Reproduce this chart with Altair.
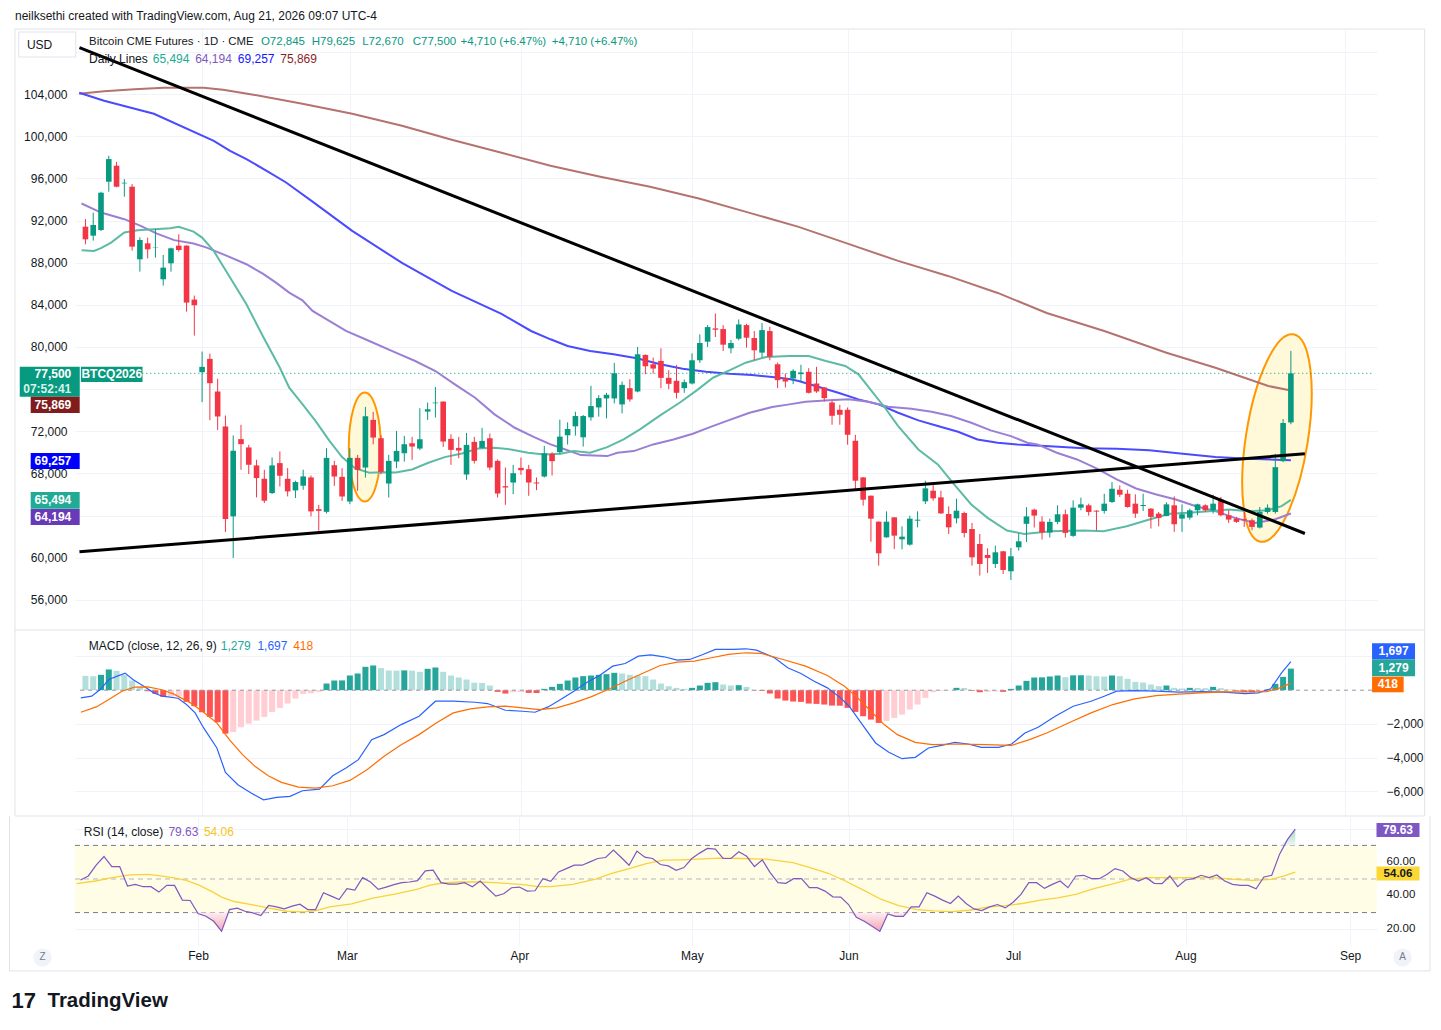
import altair as alt
import pandas as pd

# ------------------------------------------------------------------ data
OPEN = [91418, 90565, 91102, 95684, 97201, 95526, 95210, 88321, 89838, 89427,
        86425, 87942, 89617, 89617, 84498, 77609, 78873, 75776, 72458, 63927,
        71257, 70467, 68761, 67496, 66138, 68982, 67496, 66391, 66833, 67623,
        64611, 64358, 68782, 67676, 65338, 69477, 68561, 73080, 71342, 67044,
        69130, 69920, 70868, 70362, 73870, 74660, 74818, 71279, 70425, 67897,
        70994, 70425, 71342, 69193, 66791, 67139, 68530, 68403, 67139, 67708,
        69857, 70015, 71621, 72472, 71432, 73322, 74267, 75118, 75118, 74550,
        76094, 75779, 79244, 78362, 78677, 77071, 76787, 76094, 76535, 78740,
        80504, 81764, 81701, 79874, 80787, 82079, 80850, 79464, 81512, 78362,
        77039, 77011, 77422, 77643, 76537, 76158, 74736, 74041, 74041, 71102,
        67626, 65888, 63423, 61938, 63834, 61748, 61243, 63518, 65351, 66362,
        65730, 64150, 63739, 64245, 62728, 61306, 60263, 59410, 60611, 58715,
        60990, 63220, 64565, 63431, 62392, 63400, 64124, 62077, 64754, 64975,
        64470, 64439, 65289, 66455, 66077, 65132, 64911, 64660, 64187, 63966,
        64975, 63715, 63809, 64502, 64975, 64502, 65510, 64030, 63715, 63652,
        63557, 62864, 64345, 64345, 69164, 72845]
HIGH = [92145, 92745, 94736, 98149, 97580, 95937, 95463, 90407, 90375, 91197,
        88732, 89427, 90691, 89650, 84877, 79568, 79378, 76977, 73501, 71605,
        72616, 70720, 69298, 68350, 69520, 70088, 68508, 67307, 68350, 67813,
        65022, 70394, 69193, 68498, 70394, 69762, 74312, 73838, 71626, 69762,
        72037, 71563, 71468, 74186, 74723, 76208, 74850, 71721, 71468, 71847,
        71468, 72321, 71784, 69320, 68561, 68814, 69509, 68814, 67613, 70615,
        70015, 73102, 72850, 73858, 73543, 76315, 75433, 75653, 78488, 76724,
        76945, 80000, 79300, 78992, 79874, 77795, 78299, 76913, 79401, 81197,
        82079, 83182, 82079, 80661, 82614, 82205, 81512, 82268, 81921, 78520,
        77480, 77896, 78307, 77991, 78117, 76200, 74894, 74515, 74262, 71671,
        67650, 65900, 63450, 64403, 63850, 62981, 63992, 64403, 67310, 67057,
        66362, 64877, 65604, 64371, 63297, 62254, 60895, 61148, 60650, 60927,
        62317, 64800, 64660, 63935, 63715, 64975, 64565, 65447, 65699, 65132,
        64500, 66077, 67179, 66864, 66455, 66014, 66077, 64700, 64345, 65258,
        65825, 65069, 64660, 65132, 65069, 65982, 65762, 64502, 63872, 64345,
        63715, 64817, 65069, 69857, 73165, 79625]
LOW = [89743, 90091, 91007, 94736, 95150, 94262, 89143, 87152, 88416, 88479,
       85825, 87152, 89048, 83360, 81085, 74765, 73058, 72110, 62441, 59976,
       68350, 67939, 65727, 65190, 66043, 66770, 65822, 65664, 66454, 63927,
       62557, 64200, 66823, 65401, 65085, 66349, 67613, 70773, 67929, 65717,
       68498, 69130, 69288, 70204, 73080, 73301, 70520, 68814, 69446, 67392,
       68940, 70380, 68308, 65717, 65022, 66033, 67866, 65875, 66412, 67613,
       67809, 69857, 70739, 71590, 70550, 73007, 73385, 73228, 74645, 73700,
       74802, 75700, 77417, 77480, 76094, 76000, 75118, 75653, 76450, 78488,
       80000, 80945, 79622, 79401, 80630, 79937, 78740, 78992, 78740, 76094,
       76157, 76474, 76727, 75589, 75652, 74831, 72619, 72619, 70723, 66520,
       64940, 61527, 59252, 61900, 60832, 60800, 61148, 62886, 65098, 65414,
       64150, 62254, 63265, 61938, 59252, 58304, 58557, 59031, 58462, 57893,
       60674, 61490, 62864, 61730, 61919, 63179, 61919, 61982, 64502, 63998,
       62612, 64187, 65195, 65762, 64754, 63778, 64439, 62770, 62987, 63935,
       62455, 62455, 63620, 64030, 64345, 64187, 63935, 63305, 63305, 62927,
       62612, 62770, 64187, 64187, 69069, 72670]
CLOSE = [90217, 91576, 94641, 97833, 95210, 95589, 89522, 90154, 89269, 89460,
         87531, 89364, 89206, 84213, 83960, 78114, 76566, 73406, 63673, 70151,
         70783, 68824, 67560, 65411, 68761, 67781, 66296, 67181, 67718, 64400,
         64450, 69477, 67708, 65812, 69477, 68340, 73427, 71405, 68150, 69193,
         70141, 70773, 70552, 71247, 74091, 74723, 71026, 70236, 70172, 70710,
         69193, 71089, 68561, 66096, 66665, 68024, 68308, 67139, 67044, 69920,
         69164, 71495, 72220, 73448, 73448, 74393, 75149, 75464, 77512, 76409,
         75023, 79307, 78173, 77953, 77071, 76504, 75653, 76661, 78740, 80378,
         81890, 81638, 80220, 80378, 82142, 80882, 79685, 81606, 79087, 76850,
         76724, 77738, 77580, 75652, 75779, 75147, 73472, 73567, 71671, 67310,
         65509, 63708, 60421, 63423, 62096, 62001, 63708, 63613, 66583, 65635,
         64213, 62886, 64466, 62349, 60042, 59410, 59979, 60516, 58841, 60137,
         61559, 63920, 63998, 62392, 63400, 64124, 62360, 64754, 65069, 64345,
         64376, 65132, 66549, 65982, 64817, 64187, 65006, 63872, 63778, 65069,
         63179, 64124, 64502, 65069, 64502, 65132, 64030, 63620, 63400, 63557,
         62927, 64345, 64754, 68597, 72787, 77500]

# moving averages (bar index, value)
TEAL_IDX = [-0.5, 1.1, 2.0, 3.3, 5.0, 6.7, 8.8, 10.9, 12.0, 13.9, 15.0, 16.5, 18.2, 20.7, 22.8,
            25.0, 26.2, 27.9, 29.6, 31.4, 33.0, 34.7, 36.5, 38.2, 39.9, 42.0, 44.1, 46.2, 48.4, 50.5,
            52.6, 54.7, 56.9, 59.0, 61.1, 62.8, 64.9, 67.1, 69.2, 71.3, 73.9, 76.4, 78.6, 80.7, 82.8,
            84.9, 87.5, 90.5, 93.0, 95.2, 97.7, 99.4, 101.1, 102.8, 104.5, 107.1, 109.6, 111.7, 113.9, 116.0,
            118.5, 120.7, 124.1, 128.3, 130.9, 133.9, 136.8, 139.4, 141.9, 144.5, 147.0, 149.6, 152.1, 153.8, 155.0]
TEAL_VAL = [89185, 89120, 89375, 89910, 90860, 91085, 91180, 91275, 91400, 90955, 90385, 89120, 87060, 84055, 81045,
            78035, 76135, 74585, 72970, 71070, 69550, 68475, 68060, 68125, 68095, 68380, 69010, 69550, 69900, 70375,
            70435, 70280, 69960, 69805, 69865, 70120, 69960, 70500, 71230, 72180, 73510, 74710, 75885, 77085, 77785,
            78510, 79050, 79145, 79145, 78670, 78195, 77405, 75820, 74235, 72495, 70280, 68855, 66955, 65055, 63785,
            62585, 62265, 62520, 62585, 62520, 62995, 63630, 64165, 64260, 64420, 64580, 64420, 64515, 64895, 65494]
PURPLE_IDX = [-0.5, 2.0, 5.0, 7.1, 9.2, 11.4, 13.9, 15.6, 18.2, 20.7, 22.8, 24.5, 26.2, 27.9, 29.2,
              33.5, 36.5, 39.9, 42.4, 45.0, 47.5, 50.1, 52.6, 55.2, 57.7, 59.8, 61.1, 63.7, 67.1, 68.4,
              70.5, 73.0, 75.6, 78.1, 80.3, 82.4, 85.4, 88.3, 90.5, 92.6, 95.6, 98.1, 100.7, 103.2, 106.2,
              108.8, 111.3, 113.9, 116.4, 119.0, 121.1, 122.4, 124.9, 127.5, 130.0, 132.6, 135.1, 137.7, 140.2, 142.8,
              145.3, 147.8, 150.4, 152.9, 155.0]
PURPLE_VAL = [93615, 92760, 92130, 91495, 90765, 90140, 89815, 89435, 88645, 87855, 86965, 86110, 85160, 84435, 83420,
              81520, 80570, 79460, 78670, 77720, 76455, 75185, 73605, 72335, 71450, 70755, 70435, 69740, 69645, 69960,
              70120, 70755, 71230, 71765, 72400, 72970, 73760, 74300, 74555, 74805, 74935, 75030, 74805, 74330, 74140,
              73855, 73445, 72810, 72085, 71545, 70910, 70755, 69960, 69330, 68475, 67430, 66575, 66005, 65530, 64895,
              64420, 63785, 63310, 63630, 64194]
BLUE_IDX = [-0.8, 2.4, 8.8, 16.5, 18.6, 20.7, 23.3, 25.8, 29.2, 34.3, 40.7, 47.1, 53.5, 57.3, 59.8, 62.0,
            64.9, 67.9, 70.9, 73.9, 76.8, 79.8, 82.8, 85.7, 88.3, 90.5, 91.7, 94.3, 96.8, 99.4, 102.0,
            104.5, 107.1, 109.6, 112.2, 114.7, 117.3, 119.8, 124.0, 128.4, 132.6, 136.8, 141.1, 145.3, 149.5, 155.0]
BLUE_VAL = [104130, 103370, 102135, 99570, 98620, 97830, 96720, 95610, 93800, 91020, 87980, 85320, 83135, 81520, 80730, 80095,
            79620, 79305, 78925, 78355, 77940, 77655, 77465, 77340, 77150, 76960, 76770, 76200, 75660, 75030, 74555,
            73760, 73040, 72495, 71960, 71230, 70910, 70740, 70570, 70380, 70340, 70190, 69865, 69550, 69390, 69257]
BROWN_IDX = [-0.8, 2.4, 6.3, 10.1, 15.2, 17.7, 21.6, 27.9, 34.3, 40.7, 47.1, 53.5, 59.8, 66.2, 72.6,
             79.0, 85.4, 91.7, 98.1, 104.5, 110.9, 117.3, 123.6, 131.0, 139.0, 145.3, 149.5, 152.1, 155.0]
BROWN_VAL = [104035, 104273, 104463, 104605, 104605, 104415, 103940, 103085, 102135, 100995, 99665, 98430, 97195, 96150, 95200,
             94060, 92730, 91400, 89785, 88170, 86745, 85130, 83230, 81520, 79460, 78035, 76960, 76295, 75869]

# drawn trendlines (bar index, price at each end)
TREND_X = [-0.77, 156.8]
TREND_DOWN = [108405, 62300]
TREND_UP = [60563, 69864]

# highlight ellipses: centre (bar index, price)
ELL_X = [35.92, 153.21]
ELL_Y = [70510, 71364]

# MACD
MACD_HIST = [850, 830, 911, 1228, 1148, 911, 574, 178, -59, -218,
             -396, -380, -356, -693, -950, -1307, -1584, -1901, -2574, -2475,
             -2198, -1980, -1802, -1584, -1287, -1049, -792, -495, -220, -180,
             -99, 396, 574, 580, 871, 990, 1386, 1465, 1307, 1168,
             1160, 1175, 1160, 1089, 1267, 1346, 1089, 871, 752, 634,
             445, 430, 277, -99, -198, -119, -110, -158, -165, 79,
             198, 376, 574, 752, 832, 871, 911, 950, 1030, 990,
             911, 871, 832, 634, 396, 238, 139, 79, 139, 277,
             436, 475, 337, 277, 297, 198, -20, -40, -198, -495,
             -614, -673, -693, -792, -812, -851, -911, -920, -1049, -1287,
             -1544, -1742, -1940, -1822, -1643, -1445, -1148, -851, -455, -119,
             -40, -20, 139, 130, -40, -119, -99, -79, -99, 79,
             277, 554, 752, 760, 812, 871, 772, 880, 885, 871,
             832, 812, 871, 832, 673, 495, 455, 337, 238, 277,
             139, 99, 139, 130, 119, 198, 119, 40, -40, -99,
             -119, -79, 40, 376, 792, 1279]
MACD_IDX = [-0.6, 0.8, 1.9, 3.0, 4.1, 5.1, 6.1, 7.5, 8.8, 9.9,
            11.9, 13.0, 14.1, 15.2, 16.9, 18.0, 19.6, 21.3, 22.9, 24.6,
            26.3, 27.9, 30.1, 31.8, 33.5, 35.1, 36.8, 38.4, 40.6, 42.9,
            45.0, 47.3, 50.1, 51.7, 54.0, 56.2, 57.8, 59.5, 61.1, 62.8,
            64.4, 66.1, 67.8, 69.4, 71.1, 72.7, 74.4, 76.1, 77.7, 79.4,
            81.0, 83.3, 84.9, 86.3, 88.6, 90.3, 92.0, 93.7, 95.4, 97.1,
            98.2, 99.9, 101.6, 103.3, 105.0, 106.7, 108.4, 110.1, 111.8, 113.5,
            115.2, 117.4, 119.1, 120.8, 122.5, 124.7, 127.0, 129.3, 131.0, 132.6,
            134.9, 137.7, 140.6, 143.4, 146.3, 149.1, 150.8, 152.4, 153.8, 155.0]
MACD_VAL = [-455, -356, 40, 634, 832, 1010, 634, 238, -158, -356,
            -475, -851, -1346, -2237, -3425, -4871, -5603, -6098, -6494, -6356,
            -6296, -5960, -5861, -5069, -4613, -4118, -2930, -2633, -2039, -1544,
            -653, -653, -713, -792, -1188, -1247, -1307, -990, -554, -59,
            436, 871, 1426, 1584, 2020, 2099, 1980, 1782, 1822, 2119,
            2416, 2416, 2455, 2376, 1921, 1327, 990, 535, 139, -455,
            -950, -2039, -3128, -3683, -4059, -3980, -3425, -3267, -3089, -3188,
            -3386, -3386, -3188, -2534, -2198, -1544, -950, -653, -356, -59,
            -20, -59, -119, -79, -119, -198, -158, 79, 1030, 1697]
SIG_IDX = [-0.6, 1.4, 3.0, 4.7, 6.3, 8.0, 9.7, 11.3, 13.5, 15.2,
           16.9, 18.5, 20.2, 21.8, 23.5, 25.2, 27.4, 29.6, 31.8, 34.0,
           36.2, 38.4, 40.6, 42.9, 45.1, 47.3, 49.5, 51.7, 54.0, 56.2,
           58.4, 60.6, 62.8, 65.0, 67.2, 69.4, 71.6, 73.9, 76.1, 78.3,
           80.5, 82.7, 84.9, 86.9, 89.7, 92.6, 95.4, 97.6, 99.3, 101.0,
           102.7, 104.4, 106.7, 108.9, 112.3, 115.7, 119.1, 121.4, 123.6, 126.4,
           129.3, 132.1, 134.9, 137.7, 140.6, 143.4, 146.3, 149.1, 151.9, 153.6, 155.0]
SIG_VAL = [-1307, -990, -554, -59, 178, 198, 40, -218, -752, -1307,
           -1940, -2930, -3821, -4514, -5069, -5465, -5742, -5801, -5663, -5346,
           -4712, -3920, -3227, -2633, -1940, -1346, -1109, -990, -950, -1049,
           -1148, -1049, -752, -396, 40, 535, 990, 1465, 1663, 1723,
           1921, 2119, 2218, 2178, 1822, 1426, 871, 238, -455, -1247,
           -2039, -2633, -3089, -3227, -3188, -3227, -3267, -2930, -2534, -1940,
           -1346, -851, -515, -317, -238, -158, -99, -99, -79, 139, 418]

# RSI
RSI = [49.4, 51.8, 58.2, 63.4, 57.4, 57.4, 45.8, 46.8, 45.4, 45.4,
       42.2, 46.2, 46.2, 37.4, 37.2, 29.4, 27.8, 24.8, 18.8, 31.8,
       32.6, 30.8, 29.8, 28.2, 34.2, 33.4, 32.2, 33.8, 35.0, 31.8,
       31.8, 41.8, 39.8, 37.8, 44.2, 43.4, 50.8, 48.2, 43.8, 45.2,
       46.6, 47.8, 48.2, 49.0, 54.8, 55.2, 47.8, 47.0, 47.0, 47.8,
       45.4, 48.8, 44.2, 39.8, 41.2, 44.8, 45.2, 42.8, 43.0, 50.2,
       48.6, 54.2, 56.2, 58.2, 58.2, 60.2, 62.2, 62.8, 67.2, 62.8,
       58.2, 66.6, 63.0, 62.2, 58.6, 57.8, 55.2, 56.8, 62.2, 65.4,
       68.2, 67.8, 62.2, 62.2, 66.2, 63.5, 57.4, 61.4, 53.8, 47.8,
       47.4, 50.2, 50.2, 44.8, 44.8, 42.8, 39.4, 39.2, 34.8, 27.2,
       24.8, 21.8, 18.8, 29.2, 27.8, 27.8, 33.4, 33.4, 41.8, 39.8,
       37.4, 35.4, 39.8, 35.4, 32.2, 31.2, 33.4, 34.8, 32.8, 36.2,
       40.8, 47.8, 47.8, 44.4, 46.8, 48.8, 44.8, 51.8, 52.2, 50.2,
       50.2, 52.8, 56.2, 54.8, 50.8, 48.8, 50.8, 47.4, 47.2, 51.8,
       45.4, 49.4, 50.2, 52.2, 50.8, 52.4, 48.8, 46.8, 46.2, 46.2,
       44.2, 51.2, 52.2, 64.8, 73.4, 79.63]
RSIMA_IDX = [-0.5, 1.9, 4.1, 6.3, 8.6, 10.2, 11.9, 13.5, 15.2, 16.9,
             18.0, 19.6, 21.8, 24.1, 26.3, 28.5, 30.1, 31.8, 34.6, 37.3,
             40.1, 42.9, 44.5, 46.2, 48.4, 50.6, 52.8, 56.2, 58.4, 60.0,
             62.8, 65.6, 67.8, 70.0, 72.2, 74.4, 76.6, 78.8, 81.6, 84.1,
             87.5, 90.9, 93.1, 95.4, 97.6, 99.9, 102.2, 104.4, 106.7, 108.9,
             111.2, 113.4, 115.7, 118.0, 120.2, 122.5, 124.7, 127.0, 129.3, 131.5,
             133.8, 136.0, 138.9, 141.7, 144.5, 147.3, 149.6, 151.9, 153.6, 155.0]
RSIMA_VAL = [47.2, 48.8, 50.8, 52.4, 52.8, 51.8, 50.6, 49.2, 46.2, 42.2,
             39.2, 36.6, 34.8, 32.6, 30.8, 30.4, 31.2, 33.4, 35.2, 38.6,
             41.0, 43.8, 46.2, 47.6, 48.2, 48.2, 47.8, 46.8, 45.4, 45.4,
             46.8, 49.8, 53.4, 56.2, 59.2, 61.2, 61.4, 61.8, 62.4, 62.2,
             61.8, 59.8, 56.8, 53.4, 48.8, 43.4, 37.8, 34.2, 31.8, 31.0,
             30.6, 31.4, 33.2, 34.2, 35.4, 37.4, 38.8, 40.8, 44.2, 46.8,
             49.8, 50.8, 50.8, 50.8, 50.8, 49.8, 49.2, 49.8, 51.8, 54.06]

MONTH_POS = [15, 34, 56, 78, 98, 119, 141, 162]
MONTH_NAMES = ["Feb", "Mar", "Apr", "May", "Jun", "Jul", "Aug", "Sep"]
PRICE_TICKS = list(range(56000, 108001, 4000))
PRICE_HIDDEN = [64000, 76000, 108000]

# ------------------------------------------------------------------ layout / style
FONT = "Liberation Sans"
INK = "#131722"
GRID = "#f0f3fa"
FRAME = "#e0e3eb"
GREEN, RED = "#089981", "#f23645"

XMIN, XMAX = -0.70, 165.43
PW = 1302
PH, MH, RH = 601, 186, 129
PRICE_DOM = [53143, 110178]
MACD_DOM = [-7457, 3568]
RSI_DOM = [10.7, 87.5]
FX0, FX1 = -9.06, 172.2

XSC = alt.Scale(domain=[XMIN, XMAX], nice=False, zero=False)
GRID_X = alt.Axis(values=MONTH_POS, labels=False, ticks=False, domain=False,
                  grid=True, gridColor=GRID, title=None)
month_expr = " : ".join(f"datum.value == {p} ? '{n}'" for p, n in zip(MONTH_POS, MONTH_NAMES)) + " : ''"
DATE_X = alt.Axis(values=MONTH_POS, labelExpr=month_expr, ticks=False, domain=False,
                  grid=True, gridColor=GRID, title=None, labelPadding=5,
                  labelFontSize=12, labelColor=INK, labelFont=FONT)

PY_SC = alt.Scale(domain=PRICE_DOM, nice=False, zero=False)
PY_AX = alt.Axis(orient="left", values=PRICE_TICKS,
                 labelExpr="indexof([" + ",".join(map(str, PRICE_HIDDEN)) + "], datum.value) >= 0 ? '' : format(datum.value, ',')",
                 grid=True, gridColor=GRID, domain=False, ticks=False, labelPadding=8, title=None,
                 labelFontSize=12, labelColor=INK, labelFont=FONT)
MY_SC = alt.Scale(domain=MACD_DOM, nice=False, zero=False)
MY_AX = alt.Axis(orient="right", values=[2000, -2000, -4000, -6000],
                 labelExpr="datum.value > 0 ? '' : format(datum.value, ',')",
                 grid=True, gridColor=GRID, domain=False, ticks=False, labelPadding=9, title=None,
                 labelFontSize=12, labelColor=INK, labelFont=FONT)
RY_SC = alt.Scale(domain=RSI_DOM, nice=False, zero=False)
RY_AX = alt.Axis(orient="right", values=[20, 40, 60, 80],
                 labelExpr="datum.value > 70 ? '' : format(datum.value, '.2f')",
                 grid=True, gridColor=GRID, domain=False, ticks=False, labelPadding=9, title=None,
                 labelFontSize=11.5, labelOffset=-1, labelColor=INK, labelFont=FONT)


def enc(xa, ys, ya):
    def X(f):
        return alt.X(f, type="quantitative", scale=XSC, axis=xa)

    def Y(f):
        return alt.Y(f, type="quantitative", scale=ys, axis=ya)
    return X, Y


def rect_path(w, h):
    r = h / w
    return f"M-1,{-r:.4f} L1,{-r:.4f} L1,{r:.4f} L-1,{r:.4f} Z"


def ellipse_path(a):
    k = 0.5523
    return (f"M{-a:.4f},0 C{-a:.4f},{-k:.4f} {-k * a:.4f},-1 0,-1 "
            f"C{k * a:.4f},-1 {a:.4f},{-k:.4f} {a:.4f},0 "
            f"C{a:.4f},{k:.4f} {k * a:.4f},1 0,1 "
            f"C{-k * a:.4f},1 {-a:.4f},{k:.4f} {-a:.4f},0 Z")


def text_layer(X, Y, items, align="left", size=12, weight="normal"):
    df = pd.DataFrame(items, columns=["x", "y", "t", "col"])
    return alt.Chart(df).mark_text(align=align, baseline="middle", fontSize=size,
                                   fontWeight=weight, font=FONT).encode(
        x=X("x"), y=Y("y"), text="t:N", color=alt.Color("col:N", scale=None))


def box_layer(X, Y, items):
    df = pd.DataFrame([dict(x=x, y=y, shape=rect_path(w, h), size=w * w, col=c)
                       for (x, y, w, h, c) in items])
    return alt.Chart(df).mark_point(filled=True, opacity=1, strokeWidth=0).encode(
        x=X("x"), y=Y("y"), shape=alt.Shape("shape:N", scale=None),
        size=alt.Size("size:Q", scale=None), color=alt.Color("col:N", scale=None))


def frame_layer(X, Y, rows):
    df = pd.DataFrame(rows, columns=["x", "x2", "y", "y2"])
    return alt.Chart(df).mark_rule(color=FRAME, strokeWidth=1).encode(
        x=X("x"), x2=alt.X2("x2"), y=Y("y"), y2=alt.Y2("y2"))


def line_layer(X, Y, xs, ys, color, width, dash=None):
    df = pd.DataFrame({"x": xs, "y": ys})
    kw = dict(color=color, strokeWidth=width, clip=True)
    if dash:
        kw["strokeDash"] = dash
    return alt.Chart(df).mark_line(**kw).encode(x=X("x"), y=Y("y"))


# ------------------------------------------------------------------ price panel
PX, PY = enc(GRID_X, PY_SC, PY_AX)
idx = list(range(len(CLOSE)))
candles = pd.DataFrame({"i": idx, "o": OPEN, "h": HIGH, "l": LOW, "c": CLOSE})
candles["col"] = [GREEN if c >= o else RED for o, c in zip(OPEN, CLOSE)]

ellipses = []
for (ex, ey, sz, a, ang) in [(ELL_X[0], ELL_Y[0], 109.0, 16.0 / 54.5, 0),
                             (ELL_X[1], ELL_Y[1], 210.0, 31.0 / 105.0, 9)]:
    ellipses.append(
        alt.Chart(pd.DataFrame({"x": [ex], "y": [ey]})).mark_point(
            shape=ellipse_path(a), size=sz * sz, angle=ang, filled=True, fill="#fff8d9",
            stroke="#ff9800", strokeWidth=2, opacity=1).encode(x=PX("x"), y=PY("y")))

wicks = alt.Chart(candles).mark_rule(strokeWidth=1).encode(
    x=PX("i"), y=PY("l"), y2=alt.Y2("h"), color=alt.Color("col:N", scale=None))
bodies = alt.Chart(candles).mark_bar(size=5.6).encode(
    x=PX("i"), y=PY("o"), y2=alt.Y2("c"), color=alt.Color("col:N", scale=None))

last_line = alt.Chart(pd.DataFrame({"x": [7.31], "x2": [XMAX], "y": [CLOSE[-1]]})).mark_rule(
    color=GREEN, strokeDash=[1, 3], strokeWidth=1).encode(x=PX("x"), x2=alt.X2("x2"), y=PY("y"))

trend_down = line_layer(PX, PY, TREND_X, TREND_DOWN, "#000000", 3)
trend_up = line_layer(PX, PY, TREND_X, TREND_UP, "#000000", 3)

L1, L2 = 108945, 107331
legend = [
    text_layer(PX, PY, [(0.47, L1, "Bitcoin CME Futures · 1D · CME", INK)], size=11.4),
    text_layer(PX, PY, [(22.56, L1, "O72,845", GREEN), (29.09, L1, "H79,625", GREEN),
                        (35.58, L1, "L72,670", GREEN), (42.08, L1, "C77,500", GREEN),
                        (48.23, L1, "+4,710 (+6.47%)", GREEN), (59.95, L1, "+4,710 (+6.47%)", GREEN)],
               size=11.5),
    text_layer(PX, PY, [(0.47, L2, "Daily Lines", INK), (8.65, L2, "65,494", "#22ab94"),
                        (14.11, L2, "64,194", "#7e57c2"), (19.59, L2, "69,257", "#1515ff"),
                        (25.05, L2, "75,869", "#8b1e1e"),
                        (-9.06, 111400, "neilksethi created with TradingView.com, Aug 21, 2026 09:07 UTC-4", INK),
                        (-7.53, 108707, "USD", INK)]),
]
usd_box = alt.Chart(pd.DataFrame({"x": [-4.91], "y": [108707]})).mark_point(
    shape=rect_path(57, 25), size=57 * 57, filled=True, fill="#ffffff", stroke=FRAME,
    strokeWidth=1, opacity=1).encode(x=PX("x"), y=PY("y"))
price_boxes = box_layer(PX, PY, [(-4.59, 76707, 60, 30, GREEN),
                                 (-3.89, 74515, 49, 16.3, "#801c1c"),
                                 (-3.89, 69181, 49, 16, "#0000ff"),
                                 (-3.89, 65452, 49, 16.7, "#22ab94"),
                                 (-3.89, 63867, 49, 16, "#673ab7"),
                                 (3.38, 77409, 61.6, 15.3, GREEN)])
price_box_text = text_layer(PX, PY, [(-1.82, 77438, "77,500", "#ffffff"),
                                     (-1.82, 74515, "75,869", "#ffffff"),
                                     (-1.82, 69181, "69,257", "#ffffff"),
                                     (-1.82, 65452, "65,494", "#ffffff"),
                                     (-1.82, 63867, "64,194", "#ffffff")], align="right", weight="bold")
clock_text = text_layer(PX, PY, [(-1.82, 76014, "07:52:41", "#d9f2ec")], align="right", weight="bold")
btc_text = text_layer(PX, PY, [(3.38, 77409, "BTCQ2026", "#ffffff")], align="center", weight="bold")

price_frame = frame_layer(PX, PY, [(FX0, FX1, PRICE_DOM[1], PRICE_DOM[1]),
                                   (FX0, FX1, PRICE_DOM[0], PRICE_DOM[0]),
                                   (FX0, FX0, PRICE_DOM[0], PRICE_DOM[1]),
                                   (FX1, FX1, PRICE_DOM[0], PRICE_DOM[1])])

price = alt.layer(
    *ellipses,
    line_layer(PX, PY, BROWN_IDX, BROWN_VAL, "#b5736f", 2),
    line_layer(PX, PY, BLUE_IDX, BLUE_VAL, "#4a4aff", 2),
    line_layer(PX, PY, PURPLE_IDX, PURPLE_VAL, "#9b7fd4", 2),
    line_layer(PX, PY, TEAL_IDX, TEAL_VAL, "#5dbba5", 2),
    last_line, wicks, bodies, trend_down, trend_up,
    usd_box, *legend, price_boxes, price_box_text, clock_text, btc_text, price_frame,
).properties(width=PW, height=PH)

# ------------------------------------------------------------------ MACD panel
MX, MY = enc(GRID_X, MY_SC, MY_AX)
hist_col = []
for k, v in enumerate(MACD_HIST):
    prev = MACD_HIST[k - 1] if k else v + 1
    if v >= 0:
        hist_col.append("#26a69a" if v > prev else "#b2dfdb")
    else:
        hist_col.append("#ff5252" if v < prev else "#ffcdd2")
hist = pd.DataFrame({"i": idx, "h": MACD_HIST, "z": 0, "col": hist_col})
hist_bars = alt.Chart(hist).mark_bar(size=6).encode(
    x=MX("i"), y=MY("h"), y2=alt.Y2("z"), color=alt.Color("col:N", scale=None))
zero_line = alt.Chart(pd.DataFrame({"x": [XMIN], "x2": [XMAX], "y": [0]})).mark_rule(
    color="#9598a1", strokeDash=[4, 4], strokeWidth=1).encode(x=MX("x"), x2=alt.X2("x2"), y=MY("y"))
macd_text = text_layer(MX, MY, [(0.42, 2602, "MACD (close, 12, 26, 9)", INK),
                                (17.40, 2602, "1,279", "#26a69a"),
                                (22.11, 2602, "1,697", "#2962ff"),
                                (26.71, 2602, "418", "#ff6d00")])
macd_boxes = box_layer(MX, MY, [(168.2, 2306, 43, 16, "#2962ff"),
                                (168.2, 1328, 43, 17, "#26a69a"),
                                (167.47, 338, 31.6, 15.6, "#ff6d00")])
macd_box_text = text_layer(MX, MY, [(168.2, 2306, "1,697", "#ffffff"),
                                    (168.2, 1328, "1,279", "#ffffff"),
                                    (167.47, 338, "418", "#ffffff")], align="center", weight="bold")
macd_frame = frame_layer(MX, MY, [(FX0, FX1, MACD_DOM[0], MACD_DOM[0]),
                                  (FX0, FX0, MACD_DOM[0], MACD_DOM[1]),
                                  (FX1, FX1, MACD_DOM[0], MACD_DOM[1])])
macd = alt.layer(
    hist_bars, zero_line,
    line_layer(MX, MY, MACD_IDX, MACD_VAL, "#2962ff", 1.2),
    line_layer(MX, MY, SIG_IDX, SIG_VAL, "#ff6d00", 1.2),
    macd_text, macd_boxes, macd_box_text, macd_frame,
).properties(width=PW, height=MH)

# ------------------------------------------------------------------ RSI panel
RX, RY = enc(DATE_X, RY_SC, RY_AX)
band = alt.Chart(pd.DataFrame({"x": [XMIN], "x2": [XMAX], "y": [30], "y2": [70]})).mark_rect(
    color="#fffde6").encode(x=RX("x"), x2=alt.X2("x2"), y=RY("y"), y2=alt.Y2("y2"))
levels = alt.Chart(pd.DataFrame({"x": [XMIN, XMIN], "x2": [XMAX, XMAX], "y": [70, 30]})).mark_rule(
    color="#787b86", strokeDash=[5, 4], strokeWidth=1).encode(x=RX("x"), x2=alt.X2("x2"), y=RY("y"))
mid = alt.Chart(pd.DataFrame({"x": [XMIN], "x2": [XMAX], "y": [50]})).mark_rule(
    color="#b2b5be", strokeDash=[5, 4], strokeWidth=1).encode(x=RX("x"), x2=alt.X2("x2"), y=RY("y"))
rsi_df = pd.DataFrame({"i": idx, "r": RSI})
rsi_df["lo"] = [min(v, 30) for v in RSI]
rsi_df["hi"] = [max(v, 70) for v in RSI]
rsi_df["b30"] = 30
rsi_df["b70"] = 70
oversold = alt.Chart(rsi_df).mark_area(
    color={"gradient": "linear", "x1": 0, "x2": 0, "y1": 0, "y2": 1,
           "stops": [{"offset": 0, "color": "#fdeef0"}, {"offset": 1, "color": "#f5a3b5"}]}
).encode(x=RX("i"), y=RY("lo"), y2=alt.Y2("b30"))
overbought = alt.Chart(rsi_df).mark_area(
    color={"gradient": "linear", "x1": 0, "x2": 0, "y1": 0, "y2": 1,
           "stops": [{"offset": 0, "color": "#a5d8c0"}, {"offset": 1, "color": "#eef8f3"}]}
).encode(x=RX("i"), y=RY("hi"), y2=alt.Y2("b70"))
rsi_line = alt.Chart(rsi_df).mark_line(color="#7e57c2", strokeWidth=1.2).encode(x=RX("i"), y=RY("r"))
rsi_text = text_layer(RX, RY, [(0.42, 77.98, "RSI (14, close)", INK),
                               (11.22, 77.98, "79.63", "#7e57c2"),
                               (15.75, 77.98, "54.06", "#f5c518")])
rsi_boxes = box_layer(RX, RY, [(168.11, 79.2, 43, 14, "#7e57c2"),
                               (168.11, 53.2, 43, 14, "#fdd835")])
rsi_box_text = text_layer(RX, RY, [(168.11, 79.2, "79.63", "#ffffff")], align="center", weight="bold")
rsi_box_text2 = text_layer(RX, RY, [(168.11, 53.2, "54.06", INK)], align="center", weight="bold", size=11.5)
buttons = alt.Chart(pd.DataFrame({"x": [-4.85, 168.7], "y": [3.27, 3.27]})).mark_point(
    shape="circle", size=330, filled=True, fill="#f0f3fa", opacity=1, strokeWidth=0).encode(
    x=RX("x"), y=RY("y"))
button_text = text_layer(RX, RY, [(-4.85, 3.27, "Z", "#787b86"), (168.7, 3.27, "A", "#787b86")],
                         align="center", size=10)
logo_icon = text_layer(RX, RY, [(-8.8, -22.6, "17", INK)], size=22, weight="bold")
logo_text = text_layer(RX, RY, [(-4.21, -22.6, "TradingView", INK)], size=20.5, weight="bold")
rsi_frame = frame_layer(RX, RY, [(FX0, FX0, -4.76, RSI_DOM[1]),
                                 (FX1, FX1, -4.76, RSI_DOM[1]),
                                 (FX0, FX1, -4.76, -4.76)])
rsi = alt.layer(
    band, levels, mid, oversold, overbought,
    line_layer(RX, RY, RSIMA_IDX, RSIMA_VAL, "#f9d13e", 1.3),
    rsi_line, rsi_text, rsi_boxes, rsi_box_text, rsi_box_text2,
    buttons, button_text, logo_icon, logo_text, rsi_frame,
).properties(width=PW, height=RH)

chart = alt.vconcat(price, macd, rsi, spacing=0, bounds="flush").properties(
    padding={"left": 0, "top": 2, "right": 0, "bottom": 2}, background="#ffffff"
).configure_view(stroke=None).configure_text(font=FONT)

chart.save("out.html", embed_options={"renderer": "svg", "actions": False})
